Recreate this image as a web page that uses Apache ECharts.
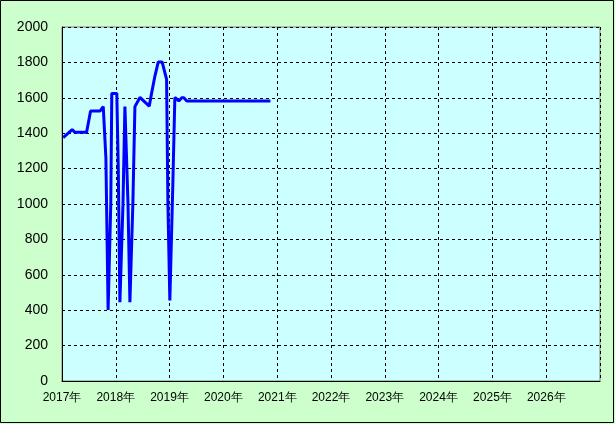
<!DOCTYPE html>
<html><head><meta charset="utf-8">
<script src="https://cdn.jsdelivr.net/npm/echarts@6/dist/echarts.min.js"></script>
<style>html,body{margin:0;padding:0;background:#ccffcc;}#c{width:615px;height:424px;}</style>
</head><body><div id="c"></div>
<script>
const dates = ['2017-01-09','2017-03-11','2017-03-30','2017-06-17','2017-07-14','2017-09-16','2017-10-08','2017-10-17','2017-10-26','2017-11-10','2017-11-18','2017-11-28','2017-12-05','2018-01-08','2018-01-18','2018-01-29','2018-02-08','2018-02-19','2018-03-04','2018-03-13','2018-03-25','2018-04-07','2018-04-17','2018-04-27','2018-05-11','2018-06-14','2018-08-16','2018-09-01','2018-09-23','2018-10-16','2018-11-12','2018-12-12','2018-12-21','2019-01-03','2019-01-12','2019-01-23','2019-02-06','2019-02-13','2019-03-05','2019-03-25','2019-04-08','2019-04-28','2020-11-16'];
const values = [1375,1420,1405,1405,1525,1525,1550,1550,1260,401,401,1000,1625,1625,1200,445,445,1000,1550,1540,1000,445,445,1000,1550,1602,1553,1625,1720,1802,1802,1704,1000,455,455,1100,1602,1602,1582,1600,1600,1582,1582];
const yTicks = [0,200,400,600,800,1000,1200,1400,1600,1800,2000];
const xStart = '2017-01-01', xEnd = '2027-01-01';

const chart = echarts.init(document.getElementById('c'));
chart.setOption({
  backgroundColor: '#ccffcc',
  animation: false,
  graphic: [{type:'rect', shape:{x:0.5,y:0.5,width:613,height:422}, style:{fill:'none',stroke:'#000',lineWidth:1}, silent:true}],
  grid: {left:62, top:27, right:15, bottom:43, show:true, backgroundColor:'#ccffff', borderColor:'#808080', borderWidth:1},
  xAxis: {
    type:'time', min:xStart, max:xEnd,
    minInterval: 365*24*3600*1000, maxInterval: 366*24*3600*1000,
    axisLine:{show:true, lineStyle:{color:'#000', width:1}},
    axisTick:{show:false},
    splitLine:{show:true, lineStyle:{color:'#000', type:[3,3], width:1}},
    axisLabel:{color:'#000', fontSize:12, fontFamily:'Liberation Sans, Arial, sans-serif', margin:11, hideOverlap:false,
      formatter: function(v){ const y = new Date(v).getFullYear(); return y >= 2027 ? '' : y + '年'; }}
  },
  yAxis: {
    type:'value', min:yTicks[0], max:yTicks[yTicks.length-1], interval:200,
    axisLine:{show:true, lineStyle:{color:'#000', width:1}},
    axisTick:{show:false},
    splitLine:{show:true, lineStyle:{color:'#000', type:[3,3], width:1}},
    axisLabel:{color:'#000', fontSize:14, fontFamily:'Liberation Sans, Arial, sans-serif', margin:14,
      formatter: function(v){ return String(v); }}
  },
  series: [{
    type:'line', data: dates.map((d,i)=>[d, values[i]]),
    showSymbol:false, symbol:'none',
    lineStyle:{color:'#0000ff', width:3}
  }]
});
</script></body></html>
